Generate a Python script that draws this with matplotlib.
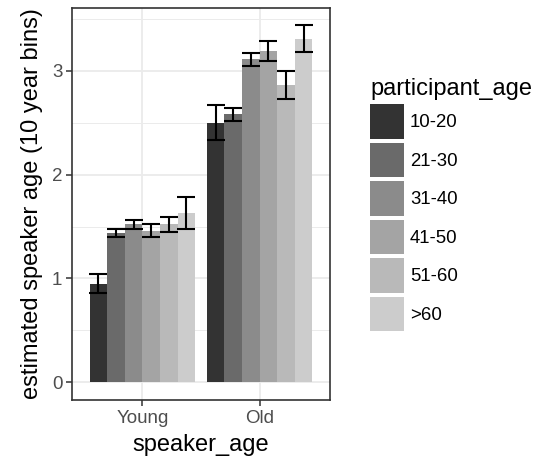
import matplotlib
matplotlib.use("Agg")
import matplotlib.pyplot as plt
import numpy as np
from matplotlib.patches import Patch

plt.rcParams['font.family'] = ['Liberation Sans', 'DejaVu Sans']

speaker_age = ["Young", "Old"]
participant_age = ["10-20", "21-30", "31-40", "41-50", "51-60", ">60"]
means = {
    "10-20": [0.95, 2.50],
    "21-30": [1.44, 2.58],
    "31-40": [1.52, 3.11],
    "41-50": [1.46, 3.19],
    "51-60": [1.52, 2.86],
    ">60":   [1.63, 3.31],
}
errs = {
    "10-20": [0.09, 0.17],
    "21-30": [0.04, 0.06],
    "31-40": [0.04, 0.06],
    "41-50": [0.065, 0.095],
    "51-60": [0.075, 0.135],
    ">60":   [0.155, 0.13],
}
colors = ["#333333", "#6A6A6A", "#8B8B8B", "#A4A4A4", "#B9B9B9", "#CCCCCC"]

W, H = 535, 461
fig = plt.figure(figsize=(W / 100, H / 100), dpi=100)
ax = fig.add_axes([72 / W, (H - 400) / H, (330 - 72) / W, (400 - 8) / H])

x = np.arange(len(speaker_age))
bw = 0.9 / len(participant_age)
handles = []
for i, (p, c) in enumerate(zip(participant_age, colors)):
    pos = x + (i - (len(participant_age) - 1) / 2) * bw
    ax.bar(pos, means[p], width=bw, color=c, zorder=2, linewidth=0)
    ax.errorbar(pos, means[p], yerr=errs[p], fmt='none', ecolor='black',
                elinewidth=1.5, capsize=6.2, capthick=1.5, zorder=3)
    handles.append(Patch(facecolor=c, edgecolor='none', label=p))

ax.set_xlim(-0.6, 1.6)
ax.set_ylim(-0.172, 3.606)
ax.set_xticks(x)
ax.set_xticklabels(speaker_age)
ax.set_yticks([0, 1, 2, 3])
ax.set_yticks([0.5, 1.5, 2.5, 3.5], minor=True)
ax.grid(True, which='major', color='#EBEBEB', linewidth=1.3, zorder=0)
ax.grid(True, which='minor', axis='y', color='#EBEBEB', linewidth=0.7, zorder=0)
ax.set_axisbelow(True)
ax.tick_params(axis='both', which='major', labelsize=13.5, labelcolor='#4D4D4D',
               color='#333333', length=4, width=1.1, pad=3)
ax.tick_params(axis='both', which='minor', length=0)
for s in ax.spines.values():
    s.set_color('#333333')
    s.set_linewidth(1.2)

ax.set_xlabel("speaker_age", fontsize=17, labelpad=5)
ax.set_ylabel("estimated speaker age (10 year bins)", fontsize=17, labelpad=6)

leg = ax.legend(handles=handles, title="participant_age", loc='upper left',
                bbox_to_anchor=(370 / W, (H - 78) / H), bbox_transform=fig.transFigure,
                frameon=False, fontsize=13.4, title_fontsize=17,
                handlelength=1.85, handleheight=2.47, labelspacing=0.22,
                handletextpad=0.3, borderaxespad=0, borderpad=0)
leg._legend_box.align = "left"

fig.savefig("out.png", dpi=100)
